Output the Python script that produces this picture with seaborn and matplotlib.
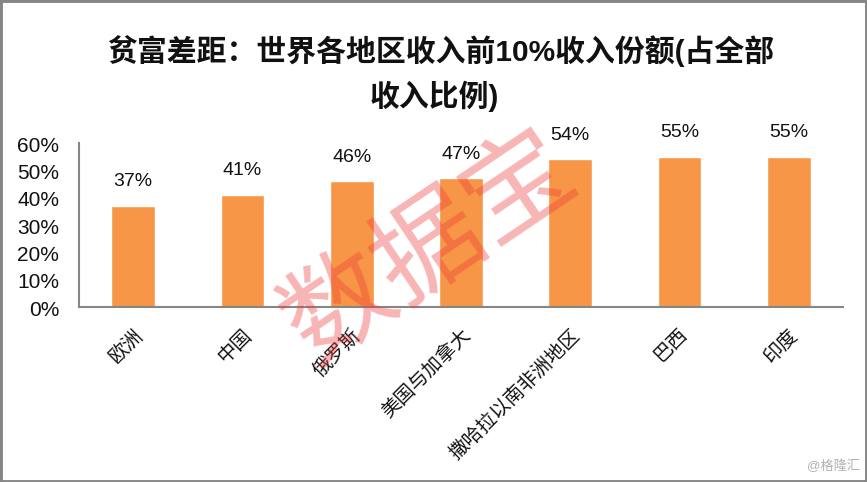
import matplotlib
matplotlib.use("Agg")
import matplotlib.pyplot as plt
from matplotlib.patches import Rectangle
from matplotlib.ticker import FuncFormatter
from matplotlib.transforms import ScaledTranslation
import pandas as pd
import seaborn as sns

regions = ["欧洲", "中国", "俄罗斯", "美国与加拿大", "撒哈拉以南非洲地区", "巴西", "印度"]
shares = [37, 41, 46, 47, 54, 55, 55]
yticks = [0, 10, 20, 30, 40, 50, 60]
title_lines = ["贫富差距：世界各地区收入前10%收入份额(占全部", "收入比例)"]

sns.set_theme(style="white")
plt.rcParams["font.family"] = ["Liberation Sans", "Noto Sans CJK SC", "DejaVu Sans"]

W, H = 867, 482
fig = plt.figure(figsize=(W / 100, H / 100), dpi=100, facecolor="white")
ax = fig.add_axes([78.5 / W, 1 - 306.5 / H, (843.5 - 78.5) / W, (306.5 - 143) / H])

df = pd.DataFrame({"region": regions, "share": shares})
sns.barplot(data=df, x="region", y="share", color="#F79646", saturation=1, width=0.4, ax=ax)

ax.set_ylim(0, 60)
ax.set_xlim(-0.5, len(regions) - 0.5)
ax.set_xlabel("")
ax.set_ylabel("")
ax.set_yticks(yticks)
ax.yaxis.set_major_formatter(FuncFormatter(lambda v, _: f"{v:.0f}%"))
ax.tick_params(axis="y", labelsize=15, length=0, pad=14, labelcolor="#111111")
ax.tick_params(axis="x", length=0, pad=14, labelsize=14, labelcolor="#111111")
plt.setp(ax.get_xticklabels(), rotation=45, ha="right", rotation_mode="anchor")
down = ScaledTranslation(0, -1.5 / 100, fig.dpi_scale_trans)
for lab in ax.get_yticklabels():
    lab.set_transform(lab.get_transform() + down)
for s in ("top", "right"):
    ax.spines[s].set_visible(False)
for s in ("left", "bottom"):
    ax.spines[s].set_color("#868686")
    ax.spines[s].set_linewidth(1.5)

for i, v in enumerate(shares):
    ax.annotate(f"{v}%", (i, v), xytext=(0, 11), textcoords="offset points",
                ha="center", va="bottom", fontsize=14, color="#111111")

fig.text(441 / W, 1 - 51 / H, title_lines[0], ha="center", va="center",
         fontsize=21.5, fontweight="bold", color="#111111")
fig.text(434 / W, 1 - 96 / H, title_lines[1], ha="center", va="center",
         fontsize=21.5, fontweight="bold", color="#111111")

fig.text(432 / W, 1 - 250 / H, "数据宝", ha="center", va="center", rotation=34,
         fontsize=78, color="#EE3B3B", alpha=0.38, zorder=10)
fig.text(860 / W, 1 - 466 / H, "@格隆汇", ha="right", va="center", fontsize=9.5, color="#B0B0B0")

fig.add_artist(Rectangle((0, 0), 1, 1, transform=fig.transFigure, fill=False,
                         edgecolor="#868686", linewidth=3.5))
fig.savefig("out.png", dpi=100)
